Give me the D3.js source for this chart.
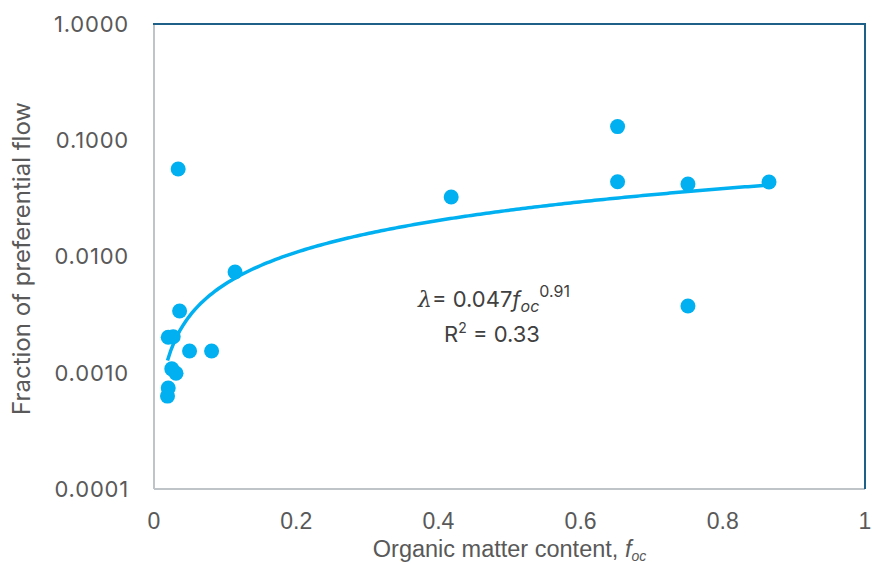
<!DOCTYPE html>
<html>
<head>
<meta charset="utf-8">
<script src="https://cdn.jsdelivr.net/npm/d3@7"></script>
<style>
  body { margin: 0; background: #fff; }
  svg { display: block; }
  .tick-y { font-family: Inter, "Open Sans", sans-serif; font-size: 22px; letter-spacing: 0.8px; fill: #595959; }
  .tick-x { font-family: "Liberation Sans", Arial, sans-serif; font-size: 23px; fill: #595959; }
  .title-x { font-family: "Liberation Sans", Arial, sans-serif; font-size: 23.5px; fill: #595959; }
  .title-y { font-family: Inter, "Open Sans", sans-serif; font-size: 24px; fill: #595959; }
  .eq { font-family: Inter, "Open Sans", sans-serif; font-size: 22px; fill: #404040; }
</style>
</head>
<body>
<div id="chart"></div>
<script>
const WIDTH = 872
const HEIGHT = 563

// organic matter content vs. fraction of preferential flow
const foc = [0.034, 0.114, 0.036, 0.020, 0.027, 0.050, 0.081, 0.025, 0.031, 0.020, 0.019,
             0.418, 0.652, 0.652, 0.751, 0.865, 0.751]
const lambda = [0.0566, 0.00736, 0.0034, 0.00202, 0.00204, 0.00154, 0.00154, 0.00108, 0.00099, 0.00074, 0.00063,
                0.0325, 0.131, 0.044, 0.042, 0.0437, 0.00375]

// power-law fit lambda = a * foc^b
const fitA = 0.047
const fitB = 0.91
const fitR2 = 0.33

const xTicks = [0, 0.2, 0.4, 0.6, 0.8, 1]
const yTicks = [0.0001, 0.001, 0.01, 0.1, 1]

const margin = { left: 154, right: 7, top: 24, bottom: 74 }

const svg = d3.select("#chart")
    .append("svg")
    .attr("width", WIDTH)
    .attr("height", HEIGHT)

const x = d3.scaleLinear()
    .domain([0, 1])
    .range([margin.left, WIDTH - margin.right])

const y = d3.scaleLog()
    .domain([0.0001, 1])
    .range([HEIGHT - margin.bottom, margin.top])

const x0 = x(0), x1 = x(1), y0 = y(0.0001), y1 = y(1)

// frame: light grey on left/bottom, dark blue on top/right
svg.append("line").attr("x1", x0).attr("x2", x1).attr("y1", y0).attr("y2", y0)
    .attr("stroke", "#bfc4c8").attr("stroke-width", 2)
svg.append("line").attr("x1", x0).attr("x2", x0).attr("y1", y1).attr("y2", y0)
    .attr("stroke", "#bfc4c8").attr("stroke-width", 2)
svg.append("line").attr("x1", x0 - 1).attr("x2", x1 + 1).attr("y1", y1).attr("y2", y1)
    .attr("stroke", "#1f6089").attr("stroke-width", 2)
svg.append("line").attr("x1", x1).attr("x2", x1).attr("y1", y1).attr("y2", y0)
    .attr("stroke", "#1f6089").attr("stroke-width", 2)

// tick labels
svg.append("g")
    .selectAll("text")
    .data(yTicks)
    .join("text")
        .attr("class", "tick-y")
        .attr("x", 129)
        .attr("y", d => y(d))
        .attr("dy", "0.36em")
        .attr("text-anchor", "end")
        .text(d => d.toFixed(4))

svg.append("g")
    .selectAll("text")
    .data(xTicks)
    .join("text")
        .attr("class", "tick-x")
        .attr("x", d => x(d))
        .attr("y", 529)
        .attr("text-anchor", "middle")
        .text(d => d)

// axis titles
svg.append("text")
    .attr("class", "title-y")
    .attr("transform", `translate(30 ${(y0 + y1) / 2 + 2}) rotate(-90)`)
    .attr("text-anchor", "middle")
    .text("Fraction of preferential flow")

let xTitle = svg.append("text")
    .attr("class", "title-x")
    .attr("x", (x0 + x1) / 2)
    .attr("y", 557)
    .attr("text-anchor", "middle")
xTitle.append("tspan").text("Organic matter content, ")
xTitle.append("tspan").attr("font-style", "italic").text("f")
xTitle.append("tspan").attr("font-style", "italic").attr("font-size", "14px").attr("dy", 4).text("oc")

// fitted curve
let xMin = d3.min(foc), xMax = d3.max(foc)
let curve = d3.range(0, 201).map(i => {
    let f = xMin + (xMax - xMin) * i / 200
    return [f, fitA * Math.pow(f, fitB)]
})

svg.append("path")
    .datum(curve)
    .attr("fill", "none")
    .attr("stroke", "#00b0f0")
    .attr("stroke-width", 3.5)
    .attr("d", d3.line().x(d => x(d[0])).y(d => y(d[1])))

// data points
svg.append("g")
    .selectAll("circle")
    .data(foc.map((f, i) => [f, lambda[i]]))
    .join("circle")
        .attr("cx", d => x(d[0]))
        .attr("cy", d => y(d[1]))
        .attr("r", 7.5)
        .attr("fill", "#00b0f0")

// equation label
let eq = svg.append("text")
    .attr("class", "eq")
    .attr("x", 418)
    .attr("y", 307)
eq.append("tspan").attr("font-style", "italic").attr("font-family", "DejaVu Serif, serif").text("λ")
eq.append("tspan").text("= " + fitA)
eq.append("tspan").attr("font-style", "italic").text("f")
eq.append("tspan").attr("font-style", "italic").attr("font-size", "16px").attr("dy", 5).text("oc")
eq.append("tspan").attr("font-size", "16px").attr("dy", -15).text(fitB)

let r2 = svg.append("text")
    .attr("class", "eq")
    .attr("x", 444)
    .attr("y", 342)
r2.append("tspan").text("R")
r2.append("tspan").attr("font-size", "14px").attr("dy", -9).text("2")
r2.append("tspan").attr("dy", 9).text(" = " + fitR2)
</script>
</body>
</html>
